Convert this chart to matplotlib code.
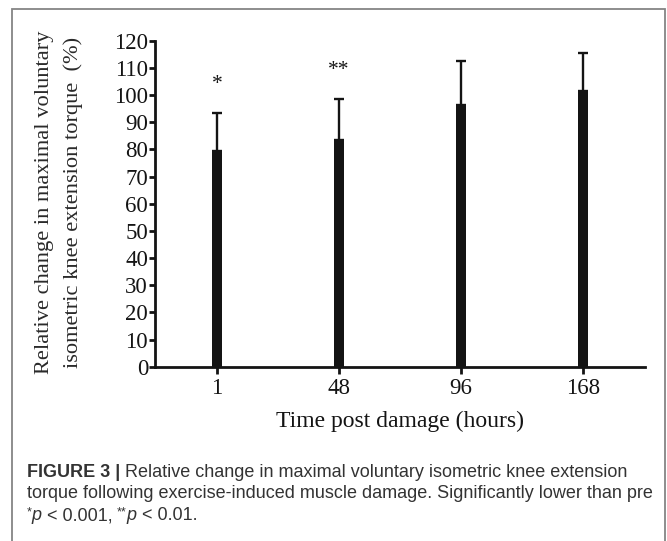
import matplotlib.pyplot as plt
from matplotlib.patches import Rectangle

# data
hours = ["1", "48", "96", "168"]
mvc_pct = [79.5, 83.5, 96.5, 101.5]
sd_pct = [14.0, 15.0, 16.0, 14.0]
sig_marks = ["*", "**", "", ""]

fig = plt.figure(figsize=(6.67, 5.41), dpi=100)
W, H = 667, 541

# outer frame of the figure panel
fig.patches.append(Rectangle((12.3 / W, -0.05), (665 - 12.3) / W, 1.05 - 9 / H,
                             transform=fig.transFigure, fill=False,
                             edgecolor="#858585", linewidth=1.3))

ax = fig.add_axes([155 / W, 1 - 366.7 / H, (645 - 155) / W, (366.7 - 40.7) / H])
x = list(range(len(hours)))
ink = "#141414"
ax.bar(x, mvc_pct, width=0.085, color=ink,
       yerr=[[0] * len(sd_pct), sd_pct], capsize=3.6,
       error_kw=dict(elinewidth=1.7, capthick=1.7, ecolor=ink))

for xi, m, s, mark in zip(x, mvc_pct, sd_pct, sig_marks):
    if mark:
        ax.text(xi, m + s + 10.5, mark, ha="center", va="center",
                fontsize=15.5, family="Liberation Serif", color=ink)

ax.set_xlim(-0.51, 3.51)
ax.set_ylim(0, 120)
ax.set_yticks(range(0, 121, 10))
ax.set_xticks(x)
ax.set_xticklabels(hours)
for s in ["top", "right"]:
    ax.spines[s].set_visible(False)
for s in ["left", "bottom"]:
    ax.spines[s].set_linewidth(2)
    ax.spines[s].set_color(ink)
ax.tick_params(axis="y", length=4, width=2, pad=1, color=ink)
ax.tick_params(axis="x", length=5, width=2, pad=3, color=ink)
for lab in ax.get_xticklabels() + ax.get_yticklabels():
    lab.set_fontfamily("Liberation Serif")
    lab.set_fontsize(16.5)
    lab.set_color(ink)

ax.set_xlabel("Time post damage (hours)", family="Liberation Serif",
              fontsize=17, color=ink, labelpad=9)

fig.text(59 / W, 1 - 202 / H,
         "Relative change in maximal voluntary\nisometric knee extension torque  (%)",
         rotation=90, ha="center", va="center", multialignment="center",
         family="Liberation Serif", fontsize=16.1, linespacing=1.6, color="#2a2a2a")

# caption, laid out as runs of differently styled text
cap_col = "#333333"
cap_fs = 13
fig.canvas.draw()
r = fig.canvas.get_renderer()


def caption_line(y_px, runs):
    xpos = 26.7
    for txt, kw in runs:
        opts = dict(family="Liberation Sans", fontsize=cap_fs, color=cap_col,
                    va="baseline")
        dy = kw.pop("dy", 0)
        opts.update(kw)
        t = fig.text(xpos / W, 1 - (y_px - dy) / H, txt, **opts)
        xpos = t.get_window_extent(renderer=r).x1


caption_line(477, [("FIGURE 3 |", dict(fontweight="bold")),
                   (" Relative change in maximal voluntary isometric knee extension", {})])
caption_line(498.5, [("torque following exercise-induced muscle damage. Significantly lower than pre", {})])
caption_line(520.5, [("*", dict(fontsize=9, dy=5)), ("p", dict(style="italic")),
                     (" < 0.001, ", {}),
                     ("**", dict(fontsize=9, dy=5)), ("p", dict(style="italic")),
                     (" < 0.01.", {})])

fig.savefig("out.png", dpi=100)
